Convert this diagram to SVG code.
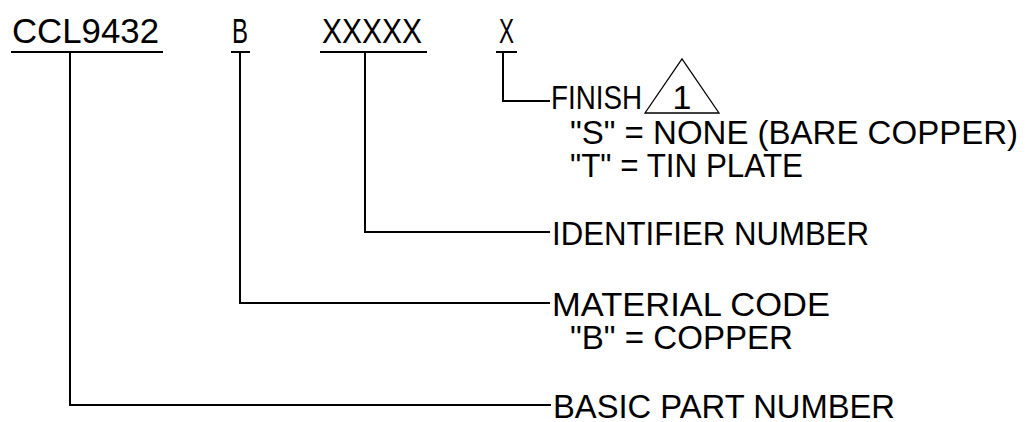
<svg xmlns="http://www.w3.org/2000/svg" width="1028" height="422" viewBox="0 0 1028 422">
<style>
.t{font-family:"Liberation Sans",Arial,sans-serif;font-size:34px;fill:#000}
.h{font-size:35px}
.ln{stroke:#000;stroke-width:2;fill:none}
.tri{stroke:#000;stroke-width:1.3;fill:none}
</style>
<rect width="1028" height="422" fill="#fff"/>
<g id="code-ccl"><text class="t h" x="12" y="43" textLength="147" lengthAdjust="spacingAndGlyphs">CCL9432</text><line class="ln" x1="11" y1="52" x2="163" y2="52"/></g>
<g id="code-b"><text class="t h" x="232" y="43" textLength="16" lengthAdjust="spacingAndGlyphs">B</text><line class="ln" x1="231" y1="52" x2="250" y2="52"/></g>
<g id="code-xxxxx"><text class="t h" x="322" y="43" textLength="100" lengthAdjust="spacingAndGlyphs">XXXXX</text><line class="ln" x1="320" y1="52" x2="427" y2="52"/></g>
<g id="code-x"><text class="t h" x="499" y="43" textLength="15" lengthAdjust="spacingAndGlyphs">X</text><line class="ln" x1="496" y1="52" x2="517" y2="52"/></g>
<g id="connectors">
<polyline class="ln" points="503,52 503,101 550,101"/>
<polyline class="ln" points="365,52 365,232 550,232"/>
<polyline class="ln" points="240,52 240,303 550,303"/>
<polyline class="ln" points="70,52 70,405 551,405"/>
</g>
<g id="finish">
<text class="t" x="551" y="109" textLength="91" lengthAdjust="spacingAndGlyphs">FINISH</text>
<polygon class="tri" points="645,113 682,59 719,113"/>
<text class="t" x="682" y="109" text-anchor="middle">1</text>
<text class="t" x="570" y="144" textLength="448" lengthAdjust="spacingAndGlyphs">"S" = NONE (BARE COPPER)</text>
<text class="t" x="570" y="177" textLength="233" lengthAdjust="spacingAndGlyphs">"T" = TIN PLATE</text>
</g>
<g id="identifier"><text class="t" x="552" y="245" textLength="317" lengthAdjust="spacingAndGlyphs">IDENTIFIER NUMBER</text></g>
<g id="material">
<text class="t" x="552" y="316" textLength="278" lengthAdjust="spacingAndGlyphs">MATERIAL CODE</text>
<text class="t" x="570" y="349" textLength="223" lengthAdjust="spacingAndGlyphs">"B" = COPPER</text>
</g>
<g id="basic"><text class="t" x="553" y="418" textLength="342" lengthAdjust="spacingAndGlyphs">BASIC PART NUMBER</text></g>
</svg>
